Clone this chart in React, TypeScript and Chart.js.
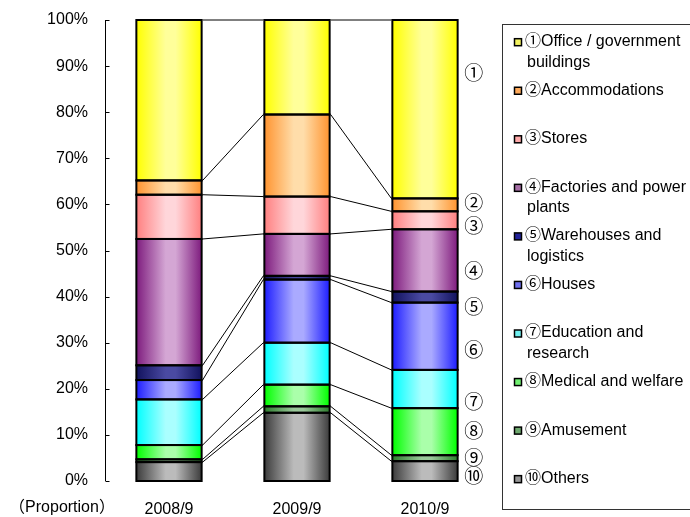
import React, { useEffect, useRef } from 'react';
import { Chart, registerables } from 'chart.js';

Chart.register(...registerables);

// ---- data ----
const categories = ['2008/9', '2009/9', '2010/9'];
const office = [34.8, 20.5, 38.7];
const accommodations = [3.1, 17.8, 2.8];
const stores = [9.6, 8.1, 3.9];
const factories = [27.4, 9.1, 13.5];
const warehouses = [3.2, 0.8, 2.4];
const houses = [4.2, 13.7, 14.6];
const education = [9.9, 9.1, 8.3];
const medical = [3.1, 4.7, 10.2];
const amusement = [0.6, 1.4, 1.3];
const others = [4.1, 14.8, 4.3];

const seriesValues = [office, accommodations, stores, factories, warehouses, houses, education, medical, amusement, others];
const seriesNames = [
  '①Office / government buildings',
  '②Accommodations',
  '③Stores',
  '④Factories and power plants',
  '⑤Warehouses and logistics',
  '⑥Houses',
  '⑦Education and research',
  '⑧Medical and welfare',
  '⑨Amusement',
  '⑩Others',
];
const legendLines = [
  ['①Office / government', 'buildings'],
  ['②Accommodations'],
  ['③Stores'],
  ['④Factories and power', 'plants'],
  ['⑤Warehouses and', 'logistics'],
  ['⑥Houses'],
  ['⑦Education and', 'research'],
  ['⑧Medical and welfare'],
  ['⑨Amusement'],
  ['⑩Others'],
];
const numberMarks = ['①', '②', '③', '④', '⑤', '⑥', '⑦', '⑧', '⑨', '⑩'];
const numberMarkAt = [88.6, 60.4, 55.4, 45.5, 37.8, 28.5, 17.2, 10.9, 5.1, 1.1];
const axisNote = '（Proportion）';

// ---- styles ----
const edgeColors = ['#FFFF00', '#FF9430', '#FF8080', '#7E1C7E', '#12125E', '#1E1EFF', '#00FFFF', '#00FF00', '#2E7D2E', '#3C3C3C'];
const centerColors = ['#FFFF9A', '#FFDDAA', '#FFD6DA', '#D4A6D4', '#4A4AA2', '#AAAAFF', '#AAFFFF', '#AAFFAA', '#9AC89A', '#BBBBBB'];
const legendColors = ['#F2F260', '#FFAA5A', '#FFAAAA', '#A66EA6', '#22229A', '#7070F0', '#70F0F0', '#70F070', '#6EA86E', '#969696'];
const BAR_PCT = 0.51;
const FONT = "'Liberation Sans', Arial, 'Noto Sans CJK JP', sans-serif";

const overlayPlugin = {
  id: 'overlay',
  afterDatasetsDraw(chart: any) {
    const ctx = chart.ctx;
    const ys = chart.scales.y;
    const area = chart.chartArea;
    ctx.save();

    // connector lines between bars
    ctx.strokeStyle = '#000';
    ctx.lineWidth = 1;
    const metas = chart.getSortedVisibleDatasetMetas();
    metas.forEach((meta: any) => {
      const els = meta.data;
      for (let i = 0; i < els.length - 1; i++) {
        const a = els[i];
        const b = els[i + 1];
        ctx.beginPath();
        ctx.moveTo(a.x + a.width / 2 + 1, Math.min(a.y, a.base));
        ctx.lineTo(b.x - b.width / 2 - 1, Math.min(b.y, b.base));
        ctx.stroke();
      }
    });

    // bar outlines
    ctx.lineWidth = 2;
    metas.forEach((meta: any) => {
      meta.data.forEach((el: any) => {
        const top = Math.min(el.y, el.base);
        const h = Math.abs(el.base - el.y);
        ctx.strokeRect(el.x - el.width / 2, top, el.width, h);
      });
    });

    // y axis line with inward ticks
    ctx.lineWidth = 1;
    ctx.strokeStyle = '#000';
    const ax = Math.round(area.left) + 0.5;
    ctx.beginPath();
    ctx.moveTo(ax, ys.getPixelForValue(100));
    ctx.lineTo(ax, ys.getPixelForValue(0));
    ctx.stroke();
    ys.ticks.forEach((t: any) => {
      const py = Math.round(ys.getPixelForValue(t.value)) + 0.5;
      ctx.beginPath();
      ctx.moveTo(ax, py);
      ctx.lineTo(ax + 4, py);
      ctx.stroke();
    });

    // circled numbers beside last bar
    const lastMeta = metas[0];
    const lastEl = lastMeta.data[lastMeta.data.length - 1];
    const nx = lastEl.x + lastEl.width / 2 + 16;
    ctx.fillStyle = '#000';
    ctx.font = "19px 'Noto Sans CJK JP', sans-serif";
    ctx.textAlign = 'center';
    ctx.textBaseline = 'middle';
    numberMarks.forEach((m, i) => {
      ctx.fillText(m, nx, ys.getPixelForValue(numberMarkAt[i]));
    });

    // axis note
    ctx.font = `16px ${FONT}`;
    ctx.textAlign = 'center';
    ctx.fillText(axisNote, 62, 508);

    // legend
    ctx.strokeStyle = '#333';
    ctx.lineWidth = 1;
    ctx.strokeRect(502.5, 24.5, 300, 485);
    ctx.textAlign = 'left';
    const step = 48.55;
    legendLines.forEach((lines, i) => {
      const cy = 41.7 + i * step;
      ctx.fillStyle = legendColors[i];
      ctx.fillRect(514.5, cy - 3, 7, 7);
      ctx.strokeStyle = '#000';
      ctx.lineWidth = 1.5;
      ctx.strokeRect(514.5, cy - 3, 7, 7);
      ctx.fillStyle = '#000';
      lines.forEach((ln, j) => {
        ctx.fillText(ln, j === 0 ? 525 : 527, cy + j * 20.5);
      });
    });

    ctx.restore();
  },
};

export default function App() {
  const ref = useRef<HTMLCanvasElement | null>(null);
  useEffect(() => {
    document.body.style.margin = '0';
    const canvas = ref.current;
    if (!canvas) return;
    const datasets: any[] = [];
    for (let s = seriesValues.length - 1; s >= 0; s--) {
      const idx = s;
      datasets.push({
        label: seriesNames[idx],
        data: seriesValues[idx],
        borderWidth: 0,
        stack: 'all',
        barPercentage: BAR_PCT,
        categoryPercentage: 1,
        backgroundColor: (c: any) => {
          const chart = c.chart;
          const xs = chart.scales && chart.scales.x;
          if (!xs || c.dataIndex == null) return edgeColors[idx];
          const cx = xs.getPixelForValue(c.dataIndex);
          const cw = Math.abs(xs.getPixelForValue(1) - xs.getPixelForValue(0));
          if (!isFinite(cx) || !isFinite(cw) || cw <= 0) return edgeColors[idx];
          const bw = cw * BAR_PCT;
          const g = chart.ctx.createLinearGradient(cx - bw / 2, 0, cx + bw / 2, 0);
          g.addColorStop(0, edgeColors[idx]);
          g.addColorStop(0.45, centerColors[idx]);
          g.addColorStop(0.6, centerColors[idx]);
          g.addColorStop(1, edgeColors[idx]);
          return g;
        },
      });
    }
    Chart.defaults.font.family = FONT;
    const chart = new Chart(canvas, {
      type: 'bar',
      data: { labels: categories, datasets },
      options: {
        responsive: false,
        animation: false,
        maintainAspectRatio: false,
        layout: { padding: { top: 20, right: 201, bottom: 0, left: 0 } },
        plugins: { legend: { display: false }, tooltip: { enabled: false } },
        scales: {
          x: {
            stacked: true,
            grid: { display: false, drawTicks: false },
            border: { display: false },
            ticks: { color: '#000', font: { size: 16, family: FONT }, padding: 19 },
            afterFit: (s: any) => { s.height = 36; s.paddingLeft = 0; s.paddingRight = 0; },
          },
          y: {
            stacked: true,
            min: 0,
            max: 100,
            grid: { display: false, drawTicks: false },
            border: { display: false },
            ticks: {
              stepSize: 10,
              color: '#000',
              font: { size: 16, family: FONT },
              padding: 17,
              callback: (v: any) => `${v}%`,
            },
            afterFit: (s: any) => { s.width = 105; s.paddingTop = 0; s.paddingBottom = 0; },
          },
        },
      },
      plugins: [overlayPlugin],
    });
    return () => chart.destroy();
  }, []);
  return <canvas ref={ref} width={690} height={517} style={{ display: 'block', width: 690, height: 517 }} />;
}
